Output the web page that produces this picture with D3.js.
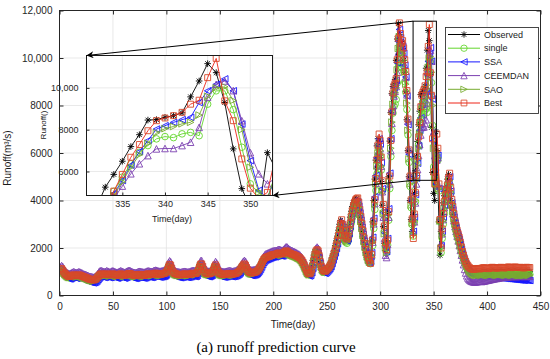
<!DOCTYPE html>
<html>
<head>
<meta charset="utf-8">
<script src="https://cdn.jsdelivr.net/npm/d3@7"></script>
<style>
  body { margin: 0; background: #fff; }
  text { font-family: "Liberation Sans", Arial, Helvetica, sans-serif; }
</style>
</head>
<body>
<svg id="chart" width="550" height="359"></svg>

<script>
// ---- data (m3/s, day 1..440) ----
var days = d3.range(1, 441);

var observed = [
  1100,1040,960,900,860,820,790,770,780,800,820,840,830,810,800,820,840,830,810,790,
  770,750,740,720,700,680,660,650,640,630,620,640,660,700,760,820,860,880,870,860,
  850,860,880,870,850,840,850,870,880,860,850,830,820,840,860,880,870,850,830,820,
  840,860,880,900,890,870,850,830,820,810,820,840,850,860,850,840,830,820,830,850,
  870,880,870,860,850,860,880,900,910,900,880,870,860,870,880,890,900,920,960,1050,
  1180,1280,1250,1120,1000,930,900,880,870,860,850,840,850,860,870,880,870,860,850,860,
  870,880,900,910,900,890,900,950,1050,1180,1290,1300,1200,1060,960,920,900,890,880,900,
  920,950,1050,1180,1260,1180,1040,950,900,880,870,860,850,860,870,880,890,900,890,880,
  870,880,890,900,920,950,980,1050,1120,1200,1260,1300,1250,1150,1050,980,950,930,920,930,
  940,950,970,1000,1050,1120,1200,1300,1400,1480,1540,1570,1590,1600,1620,1640,1660,1680,1690,1700,
  1700,1720,1740,1760,1750,1730,1720,1740,1780,1820,1850,1830,1790,1760,1740,1720,1700,1690,1670,1650,
  1630,1600,1580,1550,1500,1440,1360,1260,1150,1040,950,900,880,920,1050,1250,1480,1700,1850,1900,
  1850,1650,1400,1200,1080,1020,990,1000,1040,1100,1150,1220,1300,1450,1600,1750,1900,2100,2300,2500,
  2750,3000,3160,2950,2700,2500,2400,2350,2450,2700,3000,3300,3550,3750,3900,4000,4050,4080,3900,3600,
  3300,3000,2700,2400,2150,1900,1700,1550,1450,1400,1700,2300,3100,4000,4900,5700,6300,6600,6500,5800,
  4800,3800,2900,2200,1900,2300,3500,5000,6500,7700,8500,8800,8900,9100,9900,10800,11450,11000,10600,10700,
  10400,9900,9400,8600,7400,6100,5000,4000,3200,2700,3400,4300,5250,5860,6490,7190,7760,8460,8480,8590,
  8670,8810,9570,10330,11160,10730,9300,7080,5180,4300,4000,6900,6100,4600,3100,1700,2700,3400,3900,4200,
  4400,4600,4900,5100,4500,4000,3700,3400,3100,2900,2700,2550,2400,2200,2000,1800,1650,1500,1380,1280,
  1200,1120,1060,1000,960,940,930,940,950,960,950,940,930,940,960,980,990,980,970,960,
  950,960,980,1000,1010,1000,990,980,970,980,990,1000,1010,1000,990,980,990,1000,1010,1020,
  1010,1000,990,1000,1010,1020,1010,1000,990,1000,1010,1000,990,980,990,1000,1010,1000,990,1000
];

var single = [
  1060,1070,1010,930,870,830,790,760,740,750,770,790,810,800,780,770,790,810,800,780,
  760,740,720,710,690,670,650,630,620,610,600,590,610,630,670,730,790,830,850,840,
  830,820,830,850,840,820,810,820,840,850,830,820,800,790,810,830,850,840,820,800,
  790,810,830,850,870,860,840,820,800,790,780,790,810,820,830,820,810,800,790,800,
  820,840,850,840,830,820,830,850,870,880,870,850,840,830,840,850,860,870,890,930,
  1010,1130,1220,1200,1080,970,900,870,850,840,830,820,810,820,830,840,850,840,830,820,
  830,840,850,870,880,870,860,870,920,1010,1130,1230,1240,1150,1020,930,890,870,860,850,
  870,890,920,1010,1130,1210,1140,1010,920,870,850,840,830,820,830,840,850,860,870,860,
  850,840,850,860,870,890,920,950,1010,1080,1150,1210,1240,1200,1110,1010,950,920,900,890,
  900,910,920,940,970,1020,1080,1160,1250,1350,1420,1480,1520,1540,1560,1580,1600,1620,1640,1650,
  1660,1660,1680,1700,1720,1710,1690,1680,1700,1740,1780,1800,1780,1740,1720,1700,1680,1660,1650,1630,
  1610,1590,1560,1540,1510,1460,1400,1320,1220,1110,1000,920,870,860,900,1020,1200,1420,1630,1780,
  1820,1780,1600,1370,1180,1060,1000,970,980,1010,1060,1110,1170,1250,1380,1520,1660,1800,1980,2160,
  2350,2560,2780,2900,2740,2520,2340,2250,2200,2290,2500,2780,3050,3280,3460,3600,3700,3750,3770,3620,
  3350,3070,2780,2500,2230,2000,1780,1600,1460,1380,1340,1600,2100,2820,3620,4420,5120,5660,5960,5880,
  5280,4400,3500,2700,2060,1800,2120,3170,4500,5850,6950,7680,7960,8060,8250,8950,9760,10350,9980,9620,
  9700,9440,9000,8550,7830,6760,5600,4590,3700,2980,2500,3100,3950,5050,5730,6370,6920,7240,7560,7670,
  7620,7800,7870,7710,9220,9860,9860,8960,7160,5410,4950,4700,5950,5700,4400,3100,1800,2400,3000,3450,
  3800,4050,4250,4500,4700,4300,3850,3500,3250,3000,2780,2600,2450,2300,2150,1980,1800,1650,1500,1370,
  1260,1170,1090,1030,980,940,910,890,880,880,890,900,890,880,890,900,910,900,890,880,
  880,890,900,910,920,910,900,890,880,890,900,910,920,910,900,890,880,890,900,910,
  900,890,880,890,900,910,900,890,880,870,880,890,880,870,880,890,900,890,880,890
];

var ssa = [
  1000,1020,980,900,830,790,750,720,700,700,720,750,770,760,740,720,740,760,750,730,
  700,680,660,650,630,610,590,570,560,550,540,530,550,570,610,670,730,780,800,790,
  770,760,770,790,790,770,750,760,780,790,780,760,740,730,750,770,790,780,760,740,
  730,750,770,790,810,800,780,760,740,730,720,730,750,760,770,760,750,740,730,740,
  760,780,790,780,770,760,770,790,810,820,810,790,780,770,780,790,800,810,830,870,
  940,1050,1160,1150,1040,920,850,810,790,780,770,760,750,760,770,780,790,780,770,760,
  770,780,790,810,820,810,800,810,850,940,1060,1170,1200,1110,980,880,830,810,800,790,
  810,830,860,940,1060,1160,1120,990,880,820,800,790,780,770,780,790,800,810,820,810,
  800,790,800,810,820,840,870,900,950,1020,1100,1160,1200,1170,1080,980,910,870,850,840,
  850,860,870,890,920,970,1030,1110,1200,1300,1390,1450,1490,1510,1530,1550,1570,1590,1610,1620,
  1630,1630,1650,1670,1690,1690,1670,1660,1670,1710,1750,1780,1770,1730,1700,1680,1660,1640,1620,1610,
  1590,1560,1540,1510,1480,1440,1380,1300,1200,1090,980,890,840,820,850,960,1150,1380,1600,1760,
  1820,1760,1580,1350,1150,1030,970,940,940,980,1030,1080,1140,1220,1350,1500,1650,1800,1980,2180,
  2380,2620,2850,3000,2870,2640,2440,2330,2300,2390,2620,2920,3220,3480,3680,3820,3900,3950,3940,3760,
  3470,3170,2870,2570,2290,2040,1800,1620,1480,1400,1430,1800,2450,3250,4150,5050,5800,6350,6600,6380,
  5600,4500,3500,2650,2050,1850,2400,3650,5150,6600,7750,8450,8750,8850,9050,9800,10700,11200,10850,10500,
  10500,10200,9700,9200,8400,7200,5950,4900,3950,3200,2700,3300,4250,4940,5570,6300,6950,7480,8030,8190,
  8350,8480,8590,9300,9860,10170,10430,9860,8270,6520,5100,4700,5800,5900,4500,3200,2100,2700,3300,3800,
  4100,4300,4550,4800,5000,4400,3900,3600,3300,3050,2850,2650,2500,2350,2150,1950,1750,1600,1450,1330,
  1220,1120,1040,980,930,890,860,840,830,820,820,830,820,810,810,820,830,820,810,800,
  790,790,800,800,790,780,770,770,760,760,750,750,740,740,730,730,720,720,710,710,
  700,700,690,690,680,680,670,670,660,660,650,650,650,640,640,650,650,640,640,630
];

var ceemdan = [
  1200,1260,1220,1130,1060,1010,970,940,920,930,950,980,1000,990,970,960,980,1000,990,970,
  950,920,900,890,870,850,830,810,800,790,780,770,790,820,860,930,1000,1040,1050,1030,
  1010,1000,1010,1040,1030,1010,990,1000,1030,1040,1020,1000,980,970,990,1020,1040,1030,1010,990,
  970,990,1020,1040,1060,1050,1020,1000,980,970,960,970,990,1010,1020,1010,1000,990,980,990,
  1010,1030,1040,1030,1020,1010,1020,1040,1060,1070,1060,1040,1030,1020,1030,1040,1050,1070,1100,1160,
  1260,1390,1460,1420,1290,1150,1070,1040,1020,1010,1000,990,980,990,1000,1010,1020,1010,1000,990,
  1000,1010,1030,1050,1060,1050,1040,1050,1100,1200,1340,1460,1470,1350,1200,1100,1060,1040,1030,1020,
  1040,1070,1110,1200,1340,1430,1370,1220,1100,1050,1030,1020,1010,1000,1010,1020,1030,1040,1050,1040,
  1030,1020,1030,1040,1050,1080,1110,1150,1210,1290,1370,1440,1480,1440,1340,1220,1140,1100,1080,1070,
  1080,1090,1100,1120,1150,1200,1270,1360,1460,1560,1650,1710,1750,1770,1790,1810,1830,1850,1870,1880,
  1890,1890,1900,1920,1940,1940,1920,1900,1910,1950,2000,2050,2040,1990,1950,1920,1900,1880,1860,1840,
  1820,1790,1760,1740,1700,1650,1590,1500,1400,1280,1160,1070,1010,990,1020,1130,1330,1580,1820,1990,
  2040,1990,1790,1540,1320,1190,1130,1100,1110,1150,1200,1260,1320,1400,1520,1670,1820,1980,2160,2350,
  2550,2780,3010,3120,2980,2750,2570,2480,2440,2520,2720,3010,3290,3540,3740,3880,3960,4000,3980,3800,
  3520,3210,2900,2600,2320,2060,1830,1650,1510,1430,1420,1680,2250,3020,3870,4730,5480,6050,6330,6180,
  5450,4370,3300,2400,1700,1600,2150,3300,4700,6100,7250,8000,8400,8600,8800,9400,10250,10900,10700,10400,
  10400,10150,9700,9200,8450,7350,6150,5050,4050,3250,2700,3100,3900,4700,5300,5890,6370,6760,7080,7100,
  7100,7240,7400,8110,9560,10170,10330,9870,8430,6900,5890,5410,5700,5800,4600,3300,2200,2600,3200,3700,
  4000,4200,4400,4650,4850,4300,3800,3450,3150,2900,2700,2500,2300,2100,1900,1700,1500,1300,1100,950,
  830,740,680,640,610,590,580,570,570,580,590,600,610,600,590,600,610,620,630,640,
  650,660,670,680,690,700,710,720,720,730,740,750,760,760,770,770,780,780,790,790,
  800,800,800,810,810,810,800,800,810,810,820,820,810,810,800,810,820,820,810,810
];

var sao = [
  1050,1080,1020,940,880,840,800,770,750,760,780,800,820,810,790,780,800,820,810,790,
  770,750,730,720,700,680,660,640,630,620,610,600,620,640,680,740,800,840,860,850,
  840,830,840,860,850,830,820,830,850,860,840,830,810,800,820,840,860,850,830,810,
  800,820,840,860,880,870,850,830,810,800,790,800,820,830,840,830,820,810,800,810,
  830,850,860,850,840,830,840,860,880,890,880,860,850,840,850,860,870,880,900,940,
  1020,1140,1230,1210,1090,980,910,880,860,850,840,830,820,830,840,850,860,850,840,830,
  840,850,860,880,890,880,870,880,930,1020,1140,1240,1250,1160,1030,940,900,880,870,860,
  880,900,930,1020,1140,1220,1150,1020,930,880,860,850,840,830,840,850,860,870,880,870,
  860,850,860,870,880,900,930,960,1020,1090,1160,1220,1250,1210,1120,1020,960,930,910,900,
  910,920,930,950,980,1030,1090,1170,1260,1360,1430,1490,1530,1550,1570,1590,1610,1630,1650,1660,
  1670,1670,1690,1710,1730,1720,1700,1690,1710,1750,1790,1810,1790,1750,1730,1710,1690,1670,1660,1640,
  1620,1600,1570,1550,1520,1470,1410,1330,1230,1120,1010,930,880,870,910,1030,1210,1430,1640,1790,
  1830,1790,1610,1380,1190,1070,1010,980,990,1020,1070,1120,1180,1260,1390,1530,1670,1810,1990,2170,
  2360,2580,2810,2950,2800,2580,2400,2300,2260,2350,2570,2860,3140,3390,3590,3740,3840,3880,3880,3710,
  3430,3130,2830,2540,2270,2030,1800,1620,1480,1400,1380,1700,2250,3000,3850,4700,5450,6000,6250,6100,
  5450,4450,3450,2600,2000,1800,2250,3400,4800,6200,7300,8050,8400,8550,8750,9500,10400,10900,10500,10200,
  10200,9900,9400,8900,8100,6950,5750,4700,3800,3050,2550,3150,4000,4850,5500,6200,6800,7350,7850,8050,
  8150,8280,8350,8700,9600,10000,10050,9400,8000,6200,5000,4700,5900,5800,4500,3150,2000,2550,3150,3650,
  3950,4200,4400,4650,4850,4350,3850,3550,3250,3000,2800,2600,2450,2300,2100,1920,1750,1600,1460,1340,
  1230,1140,1060,1000,950,910,880,860,850,850,860,870,860,850,860,870,880,870,860,850,
  850,860,870,880,890,880,870,860,850,860,870,880,890,880,870,860,850,860,870,880,
  870,860,850,860,870,880,870,860,850,840,850,860,850,840,850,860,870,860,850,860
];

var best = [
  1120,1130,1070,990,930,890,850,820,800,810,830,850,870,860,840,830,850,870,860,840,
  820,800,780,770,750,730,710,690,680,670,660,650,670,690,730,790,850,890,910,900,
  890,880,890,910,900,880,870,880,900,910,890,880,860,850,870,890,910,900,880,860,
  850,870,890,910,930,920,900,880,860,850,840,850,870,880,890,880,870,860,850,860,
  880,900,910,900,890,880,890,910,930,940,930,910,900,890,900,910,920,930,950,990,
  1080,1210,1310,1280,1150,1030,960,930,910,900,890,880,870,880,890,900,910,900,890,880,
  890,900,910,930,940,930,920,930,980,1080,1210,1320,1330,1230,1090,990,950,930,920,910,
  930,950,980,1080,1210,1290,1210,1070,980,930,910,900,890,880,890,900,910,920,930,920,
  910,900,910,920,930,950,980,1010,1080,1150,1230,1290,1330,1280,1180,1080,1010,980,960,950,
  960,970,980,1000,1030,1080,1150,1230,1330,1430,1510,1570,1600,1620,1630,1650,1670,1690,1710,1720,
  1730,1730,1750,1770,1790,1780,1760,1750,1770,1810,1850,1880,1860,1820,1790,1770,1750,1730,1720,1700,
  1680,1660,1630,1610,1580,1530,1470,1390,1290,1180,1070,980,930,910,950,1080,1280,1510,1730,1880,
  1930,1880,1680,1430,1230,1110,1050,1020,1030,1070,1130,1180,1250,1330,1480,1630,1780,1930,2130,2330,
  2530,2780,3030,3190,2980,2730,2530,2430,2380,2480,2730,3030,3330,3580,3780,3930,4030,4080,4110,3930,
  3630,3330,3030,2730,2430,2180,1930,1730,1580,1480,1350,1730,2330,3130,4030,4930,5730,6330,6800,6530,
  5830,4830,3830,2930,2230,1930,2330,3530,5030,6530,7730,8530,8830,8930,9130,9930,10830,11480,11030,10630,
  10730,10430,9930,9430,8630,7430,6130,5030,4030,3230,2400,3430,4330,5060,5860,6680,7290,7950,8430,8560,
  8670,8830,9220,9410,10490,11410,9380,8430,6600,5200,4700,5000,6800,6200,4700,3200,2000,2800,3450,3950,
  4250,4450,4650,4950,5150,4550,4050,3750,3450,3150,2950,2750,2600,2450,2250,2050,1850,1700,1550,1430,
  1330,1260,1200,1160,1130,1110,1100,1110,1120,1130,1140,1130,1120,1130,1150,1160,1170,1160,1150,1140,
  1130,1140,1160,1180,1190,1180,1170,1160,1150,1160,1170,1180,1190,1180,1170,1160,1170,1180,1190,1200,
  1190,1180,1170,1180,1190,1200,1190,1180,1170,1180,1190,1180,1170,1160,1170,1180,1190,1180,1170,1180
];

var seriesNames = ["Observed", "single", "SSA", "CEEMDAN", "SAO", "Best"];
var xTicks = [0, 50, 100, 150, 200, 250, 300, 350, 400, 450];
var yTicks = [0, 2000, 4000, 6000, 8000, 10000, 12000];
var zoomXTicks = [335, 340, 345, 350];
var zoomYTicks = [6000, 8000, 10000];
var zoomDays = [330.8, 352.6];
var zoomFlow = [4850, 11550];

// ---- style ----
var series = [
  {name: seriesNames[0], values: observed, line: "#000000", mark: "#000000", shape: "star"},
  {name: seriesNames[1], values: single,   line: "#63d62c", mark: "#63d62c", shape: "circle"},
  {name: seriesNames[2], values: ssa,      line: "#1515ff", mark: "#1515ff", shape: "left"},
  {name: seriesNames[3], values: ceemdan,  line: "#7b3fb0", mark: "#7b3fb0", shape: "up"},
  {name: seriesNames[4], values: sao,      line: "#77ac30", mark: "#77ac30", shape: "right"},
  {name: seriesNames[5], values: best,     line: "#ee2418", mark: "#d8482a", shape: "square"}
];

function markerPath(shape, r) {
  var k = r * 0.72;
  if (shape == "star")
    return "M" + (-r) + ",0H" + r + "M0," + (-r) + "V" + r +
           "M" + (-k) + "," + (-k) + "L" + k + "," + k + "M" + (-k) + "," + k + "L" + k + "," + (-k);
  if (shape == "circle") {
    var p = d3.path(); p.moveTo(r, 0); p.arc(0, 0, r, 0, 2 * Math.PI); return p.toString();
  }
  if (shape == "left")  return "M" + (-r) + ",0L" + r + "," + (-r) + "L" + r + "," + r + "Z";
  if (shape == "right") return "M" + r + ",0L" + (-r) + "," + (-r) + "L" + (-r) + "," + r + "Z";
  if (shape == "up")    return "M0," + (-r) + "L" + r + "," + r + "L" + (-r) + "," + r + "Z";
  var s = r * 0.9;
  return "M" + (-s) + "," + (-s) + "H" + s + "V" + s + "H" + (-s) + "Z";
}

var fmt = function(d) { return d >= 10000 ? d3.format(",")(d) : d; };

var svg = d3.select("#chart");
var defs = svg.append("defs");

var x = d3.scaleLinear().domain([0, 450]).range([59.5, 540.5]);
var y = d3.scaleLinear().domain([0, 12000]).range([295.5, 10.5]);

var xi = d3.scaleLinear().domain(zoomDays).range([86.5, 272.5]);
var yi = d3.scaleLinear().domain(zoomFlow).range([195.5, 55.5]);

defs.append("clipPath").attr("id", "clipMain").append("rect")
  .attr("x", x(0)).attr("y", y(12000)).attr("width", x(450) - x(0)).attr("height", y(0) - y(12000));
defs.append("clipPath").attr("id", "clipZoom").append("rect")
  .attr("x", xi.range()[0]).attr("y", yi.range()[1])
  .attr("width", xi.range()[1] - xi.range()[0]).attr("height", yi.range()[0] - yi.range()[1]);
defs.append("marker").attr("id", "arrow").attr("viewBox", "0 0 10 10")
  .attr("refX", 10).attr("refY", 5).attr("markerWidth", 9).attr("markerHeight", 7)
  .attr("markerUnits", "userSpaceOnUse").attr("orient", "auto")
  .append("path").attr("d", "M0,0L10,5L0,10L3,5Z").attr("fill", "#000");

// draw every series (line + markers) into g
function drawSeries(g, xs, ys, lo, hi) {
  series.forEach(function(s) {
    var pts = [];
    days.forEach(function(d, i) { if (d >= lo && d <= hi) pts.push([d, s.values[i]]); });
    g.append("path").datum(pts)
      .attr("d", d3.line().x(function(p) { return xs(p[0]); }).y(function(p) { return ys(p[1]); }))
      .attr("fill", "none").attr("stroke", s.line).attr("stroke-width", 0.9);
    g.selectAll(null).data(pts).enter().append("path")
      .attr("transform", function(p) { return "translate(" + xs(p[0]) + "," + ys(p[1]) + ")"; })
      .attr("d", markerPath(s.shape, 3.3))
      .attr("fill", "none").attr("stroke", s.mark).attr("stroke-width", 0.9);
  });
}

function styleAxis(g, size) {
  g.select(".domain").remove();
  g.selectAll(".tick line").attr("stroke", "#262626");
  g.selectAll("text").attr("fill", "#262626").style("font-size", size + "px");
}

// ---- main axes ----
var grid = svg.append("g").attr("stroke", "#e3e3e3").attr("stroke-width", 0.8);
grid.selectAll(".gx").data(xTicks.slice(1, -1)).enter().append("line")
  .attr("x1", function(d) { return x(d); }).attr("x2", function(d) { return x(d); })
  .attr("y1", y(0)).attr("y2", y(12000));
grid.selectAll(".gy").data(yTicks.slice(1, -1)).enter().append("line")
  .attr("y1", function(d) { return y(d); }).attr("y2", function(d) { return y(d); })
  .attr("x1", x(0)).attr("x2", x(450));

var main = svg.append("g").attr("clip-path", "url(#clipMain)");
drawSeries(main, x, y, 0, 450);

svg.append("g").attr("transform", "translate(0," + y(0) + ")")
  .call(d3.axisBottom(x).tickValues(xTicks).tickSize(-4).tickPadding(7))
  .call(styleAxis, 10);
svg.append("g").attr("transform", "translate(0," + y(12000) + ")")
  .call(d3.axisTop(x).tickValues(xTicks).tickSize(-4).tickFormat(""))
  .call(styleAxis, 10);
svg.append("g").attr("transform", "translate(" + x(0) + ",0)")
  .call(d3.axisLeft(y).tickValues(yTicks).tickSize(-4).tickPadding(7).tickFormat(fmt))
  .call(styleAxis, 10);
svg.append("g").attr("transform", "translate(" + x(450) + ",0)")
  .call(d3.axisRight(y).tickValues(yTicks).tickSize(-4).tickFormat(""))
  .call(styleAxis, 10);

svg.append("rect").attr("x", x(0)).attr("y", y(12000))
  .attr("width", x(450) - x(0)).attr("height", y(0) - y(12000))
  .attr("fill", "none").attr("stroke", "#262626").attr("stroke-width", 1);

svg.append("text").attr("x", 293).attr("y", 328).attr("text-anchor", "middle")
  .style("font-size", "10px").attr("fill", "#1a1a1a").text("Time(day)");
svg.append("text").attr("transform", "translate(11,158) rotate(-90)").attr("text-anchor", "middle")
  .style("font-size", "10px").attr("fill", "#1a1a1a").text("Runoff(m³/s)");

// ---- zoom box ----
svg.append("rect").attr("x", x(zoomDays[0])).attr("y", y(zoomFlow[1]))
  .attr("width", x(zoomDays[1]) - x(zoomDays[0])).attr("height", y(zoomFlow[0]) - y(zoomFlow[1]))
  .attr("fill", "none").attr("stroke", "#000").attr("stroke-width", 1);

// ---- inset ----
var inset = svg.append("g");
inset.append("rect").attr("x", xi.range()[0]).attr("y", yi.range()[1])
  .attr("width", xi.range()[1] - xi.range()[0]).attr("height", yi.range()[0] - yi.range()[1])
  .attr("fill", "#fff");
var igrid = inset.append("g").attr("stroke", "#e3e3e3").attr("stroke-width", 0.8);
igrid.selectAll(".gx").data(zoomXTicks).enter().append("line")
  .attr("x1", function(d) { return xi(d); }).attr("x2", function(d) { return xi(d); })
  .attr("y1", yi.range()[0]).attr("y2", yi.range()[1]);
igrid.selectAll(".gy").data(zoomYTicks).enter().append("line")
  .attr("y1", function(d) { return yi(d); }).attr("y2", function(d) { return yi(d); })
  .attr("x1", xi.range()[0]).attr("x2", xi.range()[1]);

var zoomG = inset.append("g").attr("clip-path", "url(#clipZoom)");
drawSeries(zoomG, xi, yi, 329, 354);

inset.append("g").attr("transform", "translate(0," + yi.range()[0] + ")")
  .call(d3.axisBottom(xi).tickValues(zoomXTicks).tickSize(-3).tickPadding(5))
  .call(styleAxis, 9);
inset.append("g").attr("transform", "translate(" + xi.range()[0] + ",0)")
  .call(d3.axisLeft(yi).tickValues(zoomYTicks).tickSize(-3).tickPadding(8).tickFormat(fmt))
  .call(styleAxis, 9);
inset.append("rect").attr("x", xi.range()[0]).attr("y", yi.range()[1])
  .attr("width", xi.range()[1] - xi.range()[0]).attr("height", yi.range()[0] - yi.range()[1])
  .attr("fill", "none").attr("stroke", "#1a1a1a").attr("stroke-width", 1);
inset.append("text").attr("x", 172).attr("y", 222).attr("text-anchor", "middle")
  .style("font-size", "9px").attr("fill", "#1a1a1a").text("Time(day)");
inset.append("text").attr("transform", "translate(46,125) rotate(-90)").attr("text-anchor", "middle")
  .style("font-size", "8px").attr("fill", "#1a1a1a").text("Runoff()");

svg.append("line").attr("x1", x(zoomDays[0])).attr("y1", y(zoomFlow[1]))
  .attr("x2", xi.range()[0]).attr("y2", yi.range()[1])
  .attr("stroke", "#000").attr("stroke-width", 1).attr("marker-end", "url(#arrow)");
svg.append("line").attr("x1", x(zoomDays[0])).attr("y1", y(zoomFlow[0]))
  .attr("x2", xi.range()[1]).attr("y2", yi.range()[0])
  .attr("stroke", "#000").attr("stroke-width", 1).attr("marker-end", "url(#arrow)");

// ---- legend ----
var leg = svg.append("g");
leg.append("rect").attr("x", 445.5).attr("y", 27.5).attr("width", 93).attr("height", 86)
  .attr("fill", "#fff").attr("stroke", "#333").attr("stroke-width", 0.9);
var item = leg.selectAll(".item").data(series).enter().append("g")
  .attr("transform", function(d, i) { return "translate(0," + (34.5 + i * 13.7) + ")"; });
item.append("line").attr("x1", 448).attr("x2", 480).attr("y1", 0).attr("y2", 0)
  .attr("stroke", function(d) { return d.line; }).attr("stroke-width", 1);
item.append("path").attr("transform", "translate(464,0)")
  .attr("d", function(d) { return markerPath(d.shape, 3.2); })
  .attr("fill", "none").attr("stroke", function(d) { return d.mark; }).attr("stroke-width", 0.85);
item.append("text").attr("x", 484).attr("y", 3.2).style("font-size", "9px").attr("fill", "#1a1a1a")
  .text(function(d) { return d.name; });

// ---- caption ----
svg.append("text").attr("x", 276).attr("y", 352).attr("text-anchor", "middle")
  .style("font-family", "'Liberation Serif', 'Times New Roman', serif").style("font-size", "15px")
  .attr("fill", "#000").text("(a) runoff prediction curve");
</script>
</body>
</html>
